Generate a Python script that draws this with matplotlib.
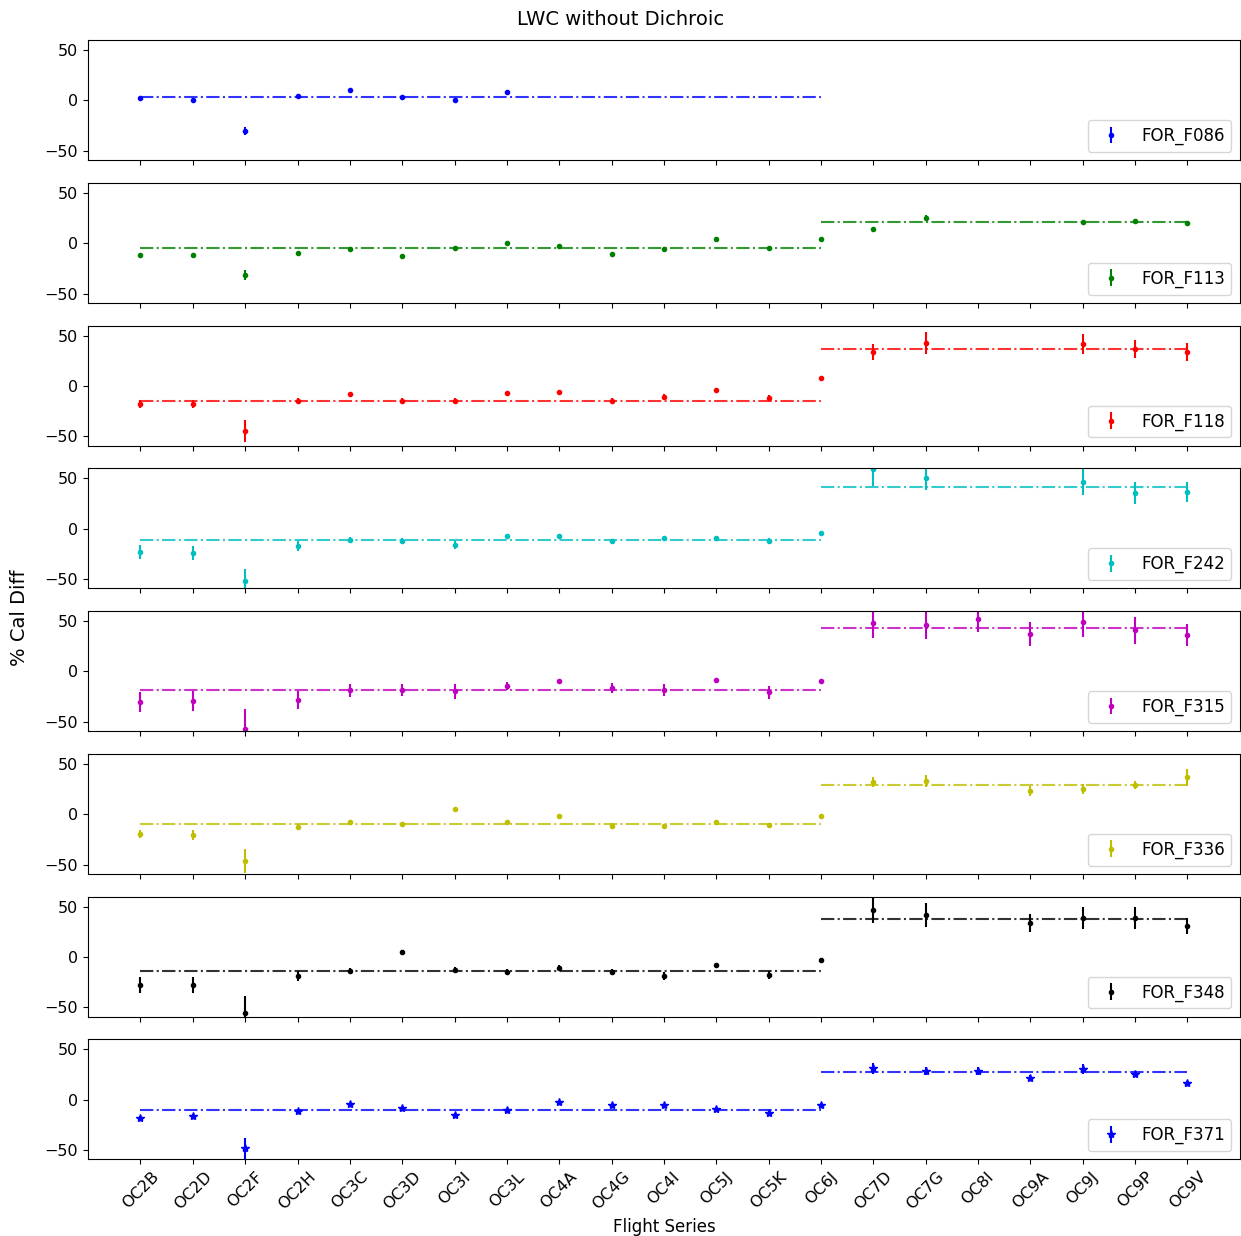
import matplotlib
matplotlib.use('Agg')
import matplotlib.pyplot as plt
import numpy as np

nan = np.nan

flights = ['OC2B', 'OC2D', 'OC2F', 'OC2H', 'OC3C', 'OC3D', 'OC3I', 'OC3L', 'OC4A', 'OC4G',
           'OC4I', 'OC5J', 'OC5K', 'OC6J', 'OC7D', 'OC7G', 'OC8I', 'OC9A', 'OC9J', 'OC9P', 'OC9V']

filters = ['FOR_F086', 'FOR_F113', 'FOR_F118', 'FOR_F242', 'FOR_F315', 'FOR_F336', 'FOR_F348', 'FOR_F371']

f086 = [2.3, 0.7, -30.6, 4.6, 10.2, 3.3, 0.7, 8.2, nan, nan, nan, nan, nan, nan, nan, nan, nan, nan, nan, nan, nan]
f086_err = [1, 1, 4, 1, 1, 1, 1, 1, 0, 0, 0, 0, 0, 0, 0, 0, 0, 0, 0, 0, 0]

f113 = [-11.3, -11.6, -31.6, -9.3, -5.6, -12.6, -4.6, 0.0, -2.3, -10.6, -5.6, 4.6, -4.6, 4.6, 14.3, 25.0, nan, nan, 20.6, 21.6, 20.3]
f113_err = [1, 1, 5, 1, 1, 1, 1, 1, 1, 1, 1, 1, 1, 1, 1, 3, 0, 0, 2, 2, 2]

f118 = [-17.8, -17.8, -44.6, -15.2, -8.3, -15.2, -15.2, -7.3, -5.9, -15.2, -11.2, -4.0, -11.5, 7.6, 33.7, 42.9, nan, nan, 41.6, 36.3, 33.7]
f118_err = [4, 4, 11, 3, 1, 3, 3, 1, 1, 3, 3, 1, 3, 1, 8, 11, 0, 0, 10, 9, 9]

f242 = [-23.1, -24.1, -52.1, -17.5, -10.9, -12.2, -16.2, -7.3, -7.6, -11.9, -9.4, -9.6, -12.2, -4.3, 59.0, 50.5, nan, nan, 46.2, 35.6, 36.6]
f242_err = [7, 7, 12, 5, 3, 3, 4, 2, 2, 2, 2, 2, 3, 1, 17, 12, 0, 0, 13, 11, 10]

f315 = [-30.5, -29.5, -57.6, -28.1, -18.9, -18.2, -19.9, -14.2, -9.3, -16.9, -18.2, -8.3, -20.9, -9.6, 47.7, 46.4, 52.3, 37.4, 48.7, 40.7, 35.8]
f315_err = [10, 10, 20, 9, 6, 6, 7, 4, 2, 5, 6, 1, 6, 2, 14, 14, 13, 12, 14, 13, 11]

f336 = [-19.9, -20.6, -46.5, -12.3, -8.0, -10.0, 5.0, -8.0, -2.0, -12.0, -12.0, -7.6, -10.3, -2.0, 31.9, 33.2, nan, 22.6, 24.9, 28.6, 36.5]
f336_err = [4, 5, 12, 3, 1, 1, 1, 1, 1, 3, 2, 1, 1, 1, 5, 6, 0, 5, 5, 4, 8]

f348 = [-28.1, -28.1, -56.0, -18.9, -14.2, 5.0, -12.6, -14.9, -11.3, -14.6, -18.9, -7.6, -17.9, -2.6, 47.0, 42.0, nan, 34.1, 38.7, 38.4, 30.5]
f348_err = [8, 8, 17, 5, 3, 1, 3, 3, 3, 3, 4, 1, 4, 1, 13, 12, 0, 9, 11, 11, 8]

f371 = [-18.2, -16.2, -48.5, -11.2, -4.0, -8.6, -14.9, -10.2, -2.3, -5.6, -5.6, -8.9, -13.5, -5.6, 31.0, 28.4, 28.4, 21.1, 30.4, 25.7, 16.8]
f371_err = [2, 2, 10, 1, 1, 1, 2, 1, 1, 1, 1, 1, 2, 1, 5, 4, 4, 3, 5, 3, 2]

# mean level before / after OC6J
level_pre = [3.9, -5.0, -14.9, -11.6, -18.5, -9.6, -14.2, -9.9]
level_post = [nan, 20.6, 36.3, 41.9, 43.4, 28.9, 38.1, 27.4]

vals = [f086, f113, f118, f242, f315, f336, f348, f371]
errs = [f086_err, f113_err, f118_err, f242_err, f315_err, f336_err, f348_err, f371_err]
colors = ['b', 'g', 'r', 'c', 'm', 'y', 'k', 'b']
markers = ['.', '.', '.', '.', '.', '.', '.', '*']

x = np.arange(len(flights))
split = flights.index('OC6J')

fig, axes = plt.subplots(8, 1, figsize=(12.41, 12.36), dpi=100, sharex=True)
fig.subplots_adjust(left=0.071, right=0.999, top=0.9675, bottom=0.062, hspace=0.19)

for ax, name, v, e, c, m, lo, hi in zip(axes, filters, vals, errs, colors, markers, level_pre, level_post):
    ax.errorbar(x, v, yerr=e, fmt=m, color=c, label=name)
    ax.plot([x[0], x[split]], [lo, lo], '-.', color=c, alpha=0.8)
    if not np.isnan(hi):
        ax.plot([x[split], x[-1]], [hi, hi], '-.', color=c, alpha=0.8)
    ax.set_ylim(-59.3, 59.9)
    ax.set_yticks([-50, 0, 50])
    ax.tick_params(labelsize=11.5)
    ax.legend(loc='lower right', fontsize=12)

axes[-1].set_xticks(x)
axes[-1].set_xticklabels(flights, rotation=45)
axes[-1].set_xlim(-1, 21)
axes[-1].set_xlabel('Flight Series', fontsize=12)
fig.suptitle('LWC without Dichroic', fontsize=14, y=0.992)
fig.supylabel('% Cal Diff', fontsize=14, x=0.008)

fig.savefig('out.png')
